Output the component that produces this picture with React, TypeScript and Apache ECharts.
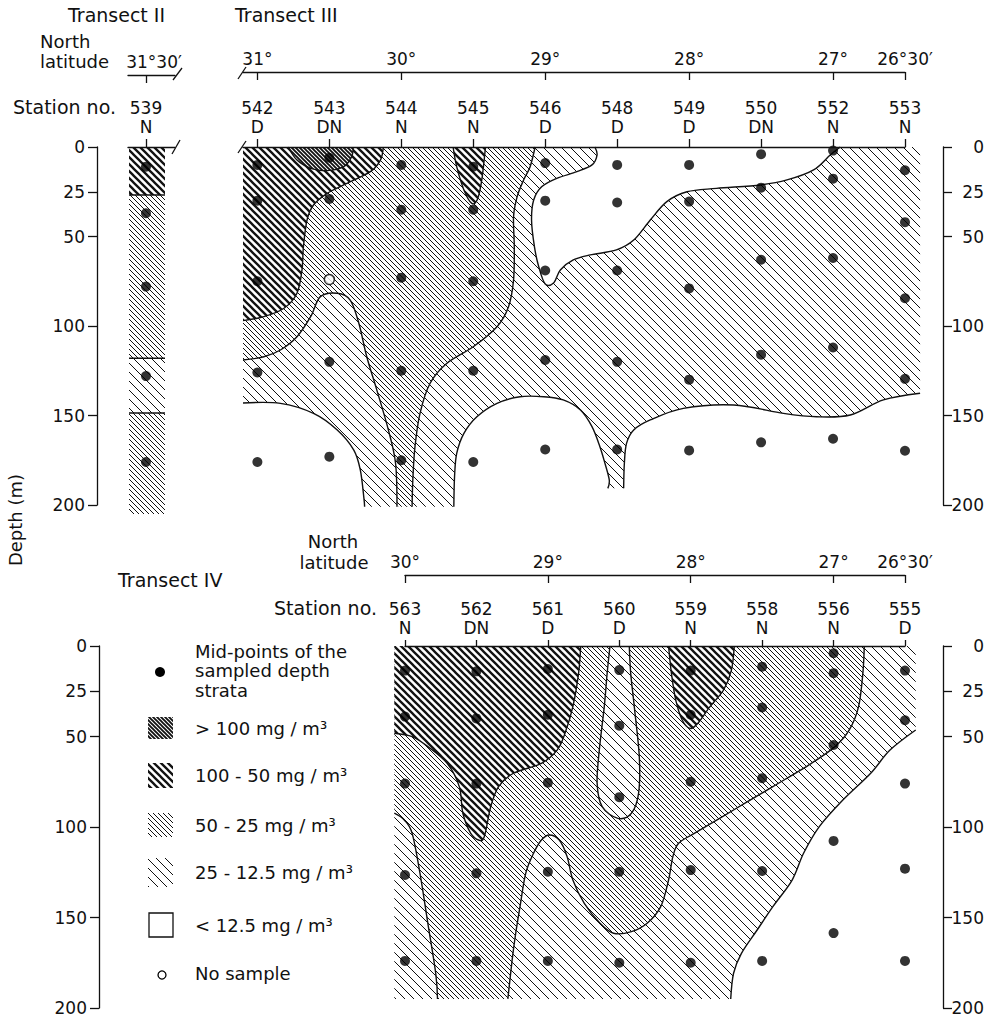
import React, { useEffect, useRef } from "react";
import * as echarts from "echarts";

const FONT = "DejaVu Sans";
const INK = "#111";

const depthTicks = [0, 25, 50, 100, 150, 200];

// ---------- Transect II ----------
const t2Stations = ["539"];
const t2Times = ["N"];
const t2LatLabels = ["31°30′"];
const t2LatAt = [0];
const t2Depths = [11, 37, 78, 128, 176];
const t2BandTops = [0, 26.8, 118, 148.6];
const t2BandBottoms = [26.8, 118, 148.6, 205];
const t2BandLevels = ["thick", "dense", "sparse", "dense"];
const t2ColumnX = [-0.236, 0.264];

// ---------- Transect III ----------
const t3Stations = ["542", "543", "544", "545", "546", "548", "549", "550", "552", "553"];
const t3Times = ["D", "DN", "N", "N", "D", "D", "D", "DN", "N", "N"];
const t3LatLabels = ["31°", "30°", "29°", "28°", "27°", "26°30′"];
const t3LatAt = [0, 2, 4, 6, 8, 9];
const t3Depths = [
  [10, 30, 75, 126, 176],
  [6, 29, 120, 173],
  [10, 35, 73, 125, 175],
  [11, 35, 75, 125, 176],
  [9, 30, 69, 119, 169],
  [10, 31, 69, 120, 169],
  [10, 30.5, 79, 130, 169.5],
  [4, 22.7, 63, 116, 165],
  [2, 17.7, 62, 112, 163],
  [13, 42, 84.5, 129.5, 169.7],
];
const t3NoSample = [[1, 74]];

// contour outlines: [station position, depth, 1 = point on the drawing's edge]
const t3Sparse = [
  [-0.2, 0, 1], [4.69, 0, 1],
  [4.72, 4.5, 0], [4.65, 10, 0], [4.44, 13.8, 0], [4.16, 17.5, 0], [3.95, 22.2, 0], [3.84, 29.6, 0],
  [3.81, 40.8, 0], [3.85, 55.7, 0], [3.91, 66.9, 0], [4.0, 76.5, 0], [4.12, 75.8, 0], [4.21, 68.7, 0],
  [4.39, 63.1, 0], [4.625, 60.3, 0], [4.99, 57.5, 0], [5.23, 52, 0], [5.46, 40.8, 0], [5.69, 30.5, 0],
  [5.97, 25, 0], [6.38, 23.1, 0], [6.99, 21.2, 0], [7.36, 18.4, 0], [7.73, 12.8, 0], [7.96, 4.5, 0],
  [8.1, 0, 1], [9.21, 0, 1], [9.21, 137.6, 1],
  [8.7, 141.3, 0], [8.24, 149.7, 0], [7.77, 150.7, 0], [7.31, 148.8, 0], [6.62, 144.1, 0], [5.92, 146, 0],
  [5.46, 152.5, 0], [5.23, 158.1, 0], [5.13, 165.6, 0], [5.1, 176.7, 0], [5.09, 190.7, 1],
  [4.87, 190.7, 1], [4.89, 186, 0], [4.83, 176.7, 0], [4.76, 167.4, 0], [4.65, 156.2, 0], [4.49, 146.9, 0],
  [4.25, 141.3, 0], [3.98, 139.5, 0], [3.65, 139.5, 0], [3.33, 143.2, 0], [3.05, 150.7, 0], [2.87, 160, 0],
  [2.77, 171.2, 0], [2.74, 184.2, 0], [2.73, 201, 1],
  [1.49, 201, 1], [1.48, 196, 0], [1.43, 180.4, 0], [1.34, 169.3, 0], [1.11, 158.1, 0], [0.78, 148.8, 0],
  [0.32, 143.2, 0], [-0.2, 143, 1],
];
const t3Dense = [
  [-0.2, 0, 1], [3.86, 0, 1], [3.79, 11, 0], [3.7, 18.4, 0], [3.61, 27.7, 0], [3.56, 38.9, 0], [3.57, 55.7, 0],
  [3.56, 74.3, 0], [3.49, 89.2, 0], [3.33, 100.4, 0], [3.0, 111.6, 0], [2.63, 120.9, 0], [2.4, 132, 0],
  [2.26, 148.8, 0], [2.19, 167.4, 0], [2.16, 186, 0], [2.15, 201, 1],
  [1.94, 201, 1], [1.92, 176.7, 0], [1.82, 158, 0], [1.66, 135.8, 0], [1.52, 117.2, 0], [1.41, 98.5, 0],
  [1.29, 85.5, 0], [1.11, 81.7, 0], [0.875, 83.6, 0], [0.74, 94.8, 0], [0.55, 106, 0], [0.32, 113.4, 0],
  [0.09, 117.2, 0], [-0.2, 119, 1],
];
const t3Thick542 = [
  [-0.2, 0, 1], [1.75, 0, 1], [1.71, 7.3, 0], [1.57, 13.8, 0], [1.2, 21.2, 0], [0.97, 25.9, 0], [0.78, 32.4, 0],
  [0.69, 40.8, 0], [0.64, 55.7, 0], [0.62, 68.7, 0], [0.55, 81.7, 0], [0.37, 90.1, 0], [0.09, 94.8, 0],
  [-0.2, 97, 1],
];
const t3Thick545 = [
  [2.72, 0, 1], [2.77, 11, 0], [2.87, 24, 0], [2.98, 31.5, 0], [3.06, 29, 0], [3.12, 18, 0], [3.17, 0, 1],
];
const t3Max543 = [
  [0.43, 0, 1], [0.55, 7.3, 0], [0.74, 11.9, 0], [0.97, 13.2, 0], [1.2, 11, 0], [1.31, 5.4, 0], [1.33, 0, 1],
];
const t3Regions = [t3Sparse, t3Dense, t3Thick542, t3Thick545, t3Max543];
const t3Levels = ["sparse", "dense", "thick", "thick", "max"];

// ---------- Transect IV ----------
const t4Stations = ["563", "562", "561", "560", "559", "558", "556", "555"];
const t4Times = ["N", "DN", "D", "D", "N", "N", "N", "D"];
const t4LatLabels = ["30°", "29°", "28°", "27°", "26°30′"];
const t4LatAt = [0, 2, 4, 6, 7];
const t4Depths = [
  [13.6, 39, 76, 126.5, 174],
  [14, 40, 76, 125.6, 174],
  [12.7, 38, 75.5, 124.7, 174],
  [13.3, 44, 83.5, 124.7, 175],
  [13.6, 38, 75, 123.8, 175],
  [11.4, 34, 73, 124.3, 174],
  [4, 15, 54.7, 107.7, 158.6],
  [13.6, 41, 76, 123, 174],
];
const t4Sparse = [
  [-0.15, 0, 1], [7.15, 0, 1], [7.15, 46.4, 1], [6.79, 57.5, 0], [6.52, 70.3, 0], [6.13, 85.1, 0],
  [5.8, 99.8, 0], [5.58, 114.5, 0], [5.42, 129.3, 0], [5.15, 144, 0], [4.93, 156.9, 0], [4.71, 169.8, 0],
  [4.6, 180.8, 0], [4.56, 195, 1], [-0.15, 195, 1],
];
const t4Dense = [
  [-0.15, 0, 1], [6.43, 0, 1], [6.41, 15.1, 0], [6.35, 33.5, 0], [6.22, 46.4, 0], [6.02, 55.6, 0],
  [5.69, 64.8, 0], [5.15, 77.7, 0], [4.6, 90.6, 0], [4.05, 103.5, 0], [3.83, 109, 0], [3.75, 116.4, 0],
  [3.69, 129.3, 0], [3.58, 144, 0], [3.39, 153.2, 0], [3.17, 157.8, 0], [2.92, 158.7, 0], [2.73, 153.2, 0],
  [2.51, 142.2, 0], [2.35, 129.3, 0], [2.27, 116.4, 0], [2.16, 107.2, 0], [2.02, 104.4, 0], [1.91, 107.2, 0],
  [1.8, 114.5, 0], [1.69, 125.6, 0], [1.61, 144, 0], [1.55, 158.7, 0], [1.5, 173.5, 0], [1.44, 195, 1],
  [0.455, 195, 1], [0.43, 180.8, 0], [0.32, 153.2, 0], [0.21, 125.6, 0], [0.1, 103.5, 0], [-0.01, 96.1, 0],
  [-0.15, 92.4, 1],
];
const t4Thick = [
  [-0.15, 0, 1], [2.46, 0, 1], [2.43, 15.1, 0], [2.35, 33.5, 0], [2.24, 48.2, 0], [2.13, 57.5, 0],
  [1.91, 64.8, 0], [1.52, 70.3, 0], [1.31, 77.7, 0], [1.2, 88.8, 0], [1.11, 105.4, 0], [1.03, 107.2, 0],
  [0.92, 103.5, 0], [0.81, 92.4, 0], [0.76, 77.7, 0], [0.59, 64.8, 0], [0.32, 55.6, 0], [0.1, 50.1, 0],
  [-0.15, 48.2, 1],
];
const t4Thick559 = [
  [3.69, 0, 1], [3.73, 15.1, 0], [3.79, 29.8, 0], [3.88, 40.9, 0], [3.99, 45.5, 0], [4.1, 42.7, 0],
  [4.27, 33.5, 0], [4.46, 24.3, 0], [4.57, 13.3, 0], [4.61, 0, 1],
];
const t4Tongue560 = [
  [2.87, 0, 1], [2.83, 15.1, 0], [2.79, 33.5, 0], [2.72, 57.5, 0], [2.69, 75.9, 0], [2.76, 88.8, 0],
  [2.98, 95.2, 0], [3.17, 92.4, 0], [3.27, 81.4, 0], [3.28, 61.1, 0], [3.21, 33.5, 0], [3.16, 15.1, 0],
  [3.14, 0, 1],
];
const t4Regions = [t4Sparse, t4Dense, t4Thick, t4Thick559, t4Tongue560];
const t4Levels = ["sparse", "dense", "thick", "thick", "sparse"];

// ---------- legend ----------
const legendLabels = ["> 100 mg / m³", "100 - 50 mg / m³", "50 - 25 mg / m³", "25 - 12.5 mg / m³", "< 12.5 mg / m³"];
const legendLevels = ["max", "thick", "dense", "sparse", "none"];

function hatch(s: number, w: number) {
  const h = s / 2;
  const svg =
    `<svg xmlns="http://www.w3.org/2000/svg" width="${s}" height="${s}">` +
    `<rect width="${s}" height="${s}" fill="#ffffff"/>` +
    `<path d="M0,0L${s},${s}M${-h},${h}L${h},${s + h}M${h},${-h}L${s + h},${h}" stroke="#111111" stroke-width="${w}" fill="none"/>` +
    `</svg>`;
  return { image: "data:image/svg+xml;base64," + btoa(svg), repeat: "repeat", imageWidth: s, imageHeight: s };
}

function r2(v: number) {
  return Math.round(v * 100) / 100;
}

function buildPaths(px: number[][], flags: number[]) {
  const n = px.length;
  let fill = `M${r2(px[0][0])},${r2(px[0][1])}`;
  let stroke = "";
  let pen = false;
  for (let i = 0; i < n; i++) {
    const a = px[i];
    const b = px[(i + 1) % n];
    const ea = flags[i] === 1;
    const eb = flags[(i + 1) % n] === 1;
    if (ea && eb) {
      fill += `L${r2(b[0])},${r2(b[1])}`;
      pen = false;
      continue;
    }
    const p0 = px[(i - 1 + n) % n];
    const p3 = px[(i + 2) % n];
    const c1 = ea ? a : [a[0] + (b[0] - p0[0]) / 6, a[1] + (b[1] - p0[1]) / 6];
    const c2 = eb ? b : [b[0] - (p3[0] - a[0]) / 6, b[1] - (p3[1] - a[1]) / 6];
    const seg = `C${r2(c1[0])},${r2(c1[1])} ${r2(c2[0])},${r2(c2[1])} ${r2(b[0])},${r2(b[1])}`;
    fill += seg;
    if (!pen) {
      stroke += `M${r2(a[0])},${r2(a[1])}`;
      pen = true;
    }
    stroke += seg;
  }
  fill += "Z";
  return { fill, stroke };
}

export default function App() {
  const ref = useRef<HTMLDivElement>(null);

  useEffect(() => {
    if (!ref.current) return;
    const chart = echarts.init(ref.current, null, { renderer: "svg" });

    const patterns: any = {
      sparse: hatch(9, 1),
      dense: hatch(5, 1),
      thick: hatch(7, 2.3),
      max: hatch(4, 1.9),
      none: "#ffffff",
    };

    const lineStyle = { color: INK, width: 1.3 };
    const labelBase = { color: INK, fontFamily: FONT, fontSize: 17, showMinLabel: true, showMaxLabel: true, hideOverlap: false };

    const stationAxis = (grid: number, min: number, max: number, names: string[], times: string[], tickLen: number, margin: number) => {
      const vals = names.map((_, i) => i);
      return {
        type: "value", gridIndex: grid, position: "top", min, max, z: 10,
        axisLine: { show: true, onZero: false, lineStyle }, splitLine: { show: false },
        axisTick: { show: true, length: tickLen, customValues: vals, lineStyle },
        axisLabel: {
          ...labelBase, customValues: vals, margin, lineHeight: 19,
          formatter: (v: number) => { const i = Math.round(v); return names[i] + "\n" + times[i]; },
        },
      };
    };
    const latAxis = (grid: number, min: number, max: number, labels: string[], at: number[], offset: number, margin: number, padding?: number[]) => ({
      type: "value", gridIndex: grid, position: "top", offset, min, max, z: 10,
      axisLine: { show: true, onZero: false, lineStyle }, splitLine: { show: false },
      axisTick: { show: true, inside: true, length: 8, customValues: at, lineStyle },
      axisLabel: {
        ...labelBase, customValues: at, margin, padding: padding || 0,
        formatter: (v: number) => labels[at.indexOf(Math.round(v))] || "",
      },
    });
    const depthAxis = (grid: number, position: string, offset: number, right: boolean) => ({
      type: "value", gridIndex: grid, position, offset, inverse: true, min: 0, max: 200, z: 10,
      axisLine: { show: true, onZero: false, lineStyle }, splitLine: { show: false },
      axisTick: { show: true, length: 9, customValues: depthTicks, lineStyle },
      axisLabel: right
        ? { ...labelBase, customValues: depthTicks, align: "right", margin: 41 }
        : { ...labelBase, customValues: depthTicks, margin: 12 },
    });

    const regionSeries = (regions: number[][][], levels: string[], xi: number, yi: number) => ({
      type: "custom", xAxisIndex: xi, yAxisIndex: yi, clip: false, silent: true, z: 2,
      data: regions.map((r, i) => [r[0][0], r[0][1], i]),
      renderItem: (params: any, api: any) => {
        const i = params.dataIndex;
        const pts = regions[i];
        const px = pts.map((p) => api.coord([p[0], p[1]]));
        const { fill, stroke } = buildPaths(px, pts.map((p) => p[2]));
        const children: any[] = [
          { type: "path", z2: i * 2, shape: { pathData: fill }, style: { fill: patterns[levels[i]], stroke: "none" } },
        ];
        if (stroke) {
          children.push({ type: "path", z2: i * 2 + 1, shape: { pathData: stroke }, style: { fill: "none", stroke: INK, lineWidth: 1.4 } });
        }
        return { type: "group", children };
      },
    });

    const slashSeries = (xi: number, yi: number, xv: number, latOffset: number, s: number[], l: number[]) => ({
      type: "custom", xAxisIndex: xi, yAxisIndex: yi, clip: false, silent: true, z: 11,
      data: [[xv, 0]],
      renderItem: (params: any, api: any) => {
        const p = api.coord([xv, 0]);
        return {
          type: "group",
          children: [
            { type: "line", shape: { x1: p[0] + s[0], y1: p[1] + s[1], x2: p[0] + s[2], y2: p[1] + s[3] }, style: { stroke: INK, lineWidth: 1.3 } },
            { type: "line", shape: { x1: p[0] + l[0], y1: p[1] - latOffset + l[1], x2: p[0] + l[2], y2: p[1] - latOffset + l[3] }, style: { stroke: INK, lineWidth: 1.3 } },
          ],
        };
      },
    });

    const t2Series = {
      type: "custom", xAxisIndex: 0, yAxisIndex: 0, clip: false, silent: true, z: 2,
      data: t2BandTops.map((t, i) => [0, t, i]),
      renderItem: (params: any, api: any) => {
        const i = params.dataIndex;
        const a = api.coord([t2ColumnX[0], t2BandTops[i]]);
        const b = api.coord([t2ColumnX[1], t2BandBottoms[i]]);
        const children: any[] = [
          { type: "rect", shape: { x: a[0], y: a[1], width: b[0] - a[0], height: b[1] - a[1] }, style: { fill: patterns[t2BandLevels[i]], stroke: "none" } },
        ];
        if (i > 0) {
          children.push({ type: "line", z2: 5, shape: { x1: a[0], y1: a[1], x2: b[0], y2: a[1] }, style: { stroke: INK, lineWidth: 1.4 } });
        }
        return { type: "group", children };
      },
    };

    const dot = { symbol: "circle", symbolSize: 10, itemStyle: { color: "#000" }, z: 6, silent: true };

    const txt = (text: string, x: number, y: number, align = "left", size = 19, extra: any = {}) => ({
      type: "text", x, y, silent: true, ...extra,
      style: { text, fill: INK, fontFamily: FONT, fontSize: size, align, verticalAlign: "middle" },
    });

    const legendY = [728, 775, 825, 872, 925];
    const legendRects = [
      [148, 717, 25, 22], [148, 763, 25, 25], [148, 813, 25, 24], [148, 858, 25, 29], [149, 913, 24, 24],
    ];

    const graphic: any[] = [
      txt("Transect II", 68, 15),
      txt("Transect III", 235, 15),
      txt("North", 40, 41, "left", 18),
      txt("latitude", 40, 61, "left", 18),
      txt("Station no.", 13, 107),
      txt("Transect IV", 118, 580),
      txt("North", 333, 541, "center", 18),
      txt("latitude", 334, 562, "center", 18),
      txt("Station no.", 377, 608, "right"),
      txt("Depth (m)", 15, 520, "center", 18, { rotation: Math.PI / 2 }),
      { type: "circle", shape: { cx: 160, cy: 672, r: 5 }, style: { fill: "#000" }, silent: true },
      txt("Mid-points of the", 195, 651, "left", 18),
      txt("sampled depth", 195, 670.5, "left", 18),
      txt("strata", 195, 690, "left", 18),
      { type: "circle", shape: { cx: 162, cy: 975, r: 4 }, style: { fill: "#fff", stroke: "#000", lineWidth: 1.3 }, silent: true },
      txt("No sample", 195, 973, "left", 18),
    ];
    legendLabels.forEach((lab, i) => {
      const r = legendRects[i];
      const isNone = legendLevels[i] === "none";
      graphic.push({
        type: "rect", silent: true, shape: { x: r[0], y: r[1], width: r[2], height: r[3] },
        style: { fill: patterns[legendLevels[i]], stroke: isNone ? INK : "none", lineWidth: 1.3 },
      });
      graphic.push(txt(lab, 195, legendY[i], "left", 18));
    });

    const option: any = {
      animation: false,
      backgroundColor: "#ffffff",
      textStyle: { fontFamily: FONT, color: INK },
      grid: [
        { left: 128, top: 147, width: 47, height: 358, outerBoundsMode: "none" },
        { left: 243, top: 147, width: 662, height: 358, outerBoundsMode: "none" },
        { left: 405, top: 646, width: 500, height: 362, outerBoundsMode: "none" },
      ],
      xAxis: [
        stationAxis(0, -0.25, 0.403, t2Stations, t2Times, 8, 11),
        latAxis(0, -0.25, 0.403, t2LatLabels, t2LatAt, 72, 5, [0, 0, 0, 16]),
        stationAxis(1, -0.2, 9, t3Stations, t3Times, 8, 11),
        latAxis(1, -0.2, 9, t3LatLabels, t3LatAt, 75, 5),
        stationAxis(2, 0, 7, t4Stations, t4Times, 6, 9),
        latAxis(2, 0, 7, t4LatLabels, t4LatAt, 71, 5),
      ],
      yAxis: [
        depthAxis(0, "left", 31, false),
        depthAxis(1, "right", 38, true),
        depthAxis(2, "left", 306, false),
        depthAxis(2, "right", 38, true),
      ],
      graphic,
      series: [
        t2Series,
        regionSeries(t3Regions, t3Levels, 2, 1),
        regionSeries(t4Regions, t4Levels, 4, 2),
        slashSeries(2, 1, -0.2, 75, [-5, 6, 3, -6], [-5, 7, 3, -5]),
        slashSeries(0, 0, 0.403, 72, [-3, 7, 5, -7], [-2, 5, 7, -7]),
        { ...dot, type: "scatter", xAxisIndex: 0, yAxisIndex: 0, data: t2Depths.map((d) => [0, d]) },
        { ...dot, type: "scatter", xAxisIndex: 2, yAxisIndex: 1, data: t3Depths.flatMap((ds, i) => ds.map((d) => [i, d])) },
        {
          type: "scatter", xAxisIndex: 2, yAxisIndex: 1, data: t3NoSample, symbol: "circle", symbolSize: 10, z: 6, silent: true,
          itemStyle: { color: "#fff", borderColor: "#000", borderWidth: 1.5 },
        },
        { ...dot, type: "scatter", xAxisIndex: 4, yAxisIndex: 2, data: t4Depths.flatMap((ds, i) => ds.map((d) => [i, d])) },
      ],
    };

    chart.setOption(option);
    return () => chart.dispose();
  }, []);

  return (
    <div
      ref={ref}
      style={{ position: "absolute", left: 0, top: 0, width: 999, height: 1020, background: "#fff" }}
    />
  );
}
